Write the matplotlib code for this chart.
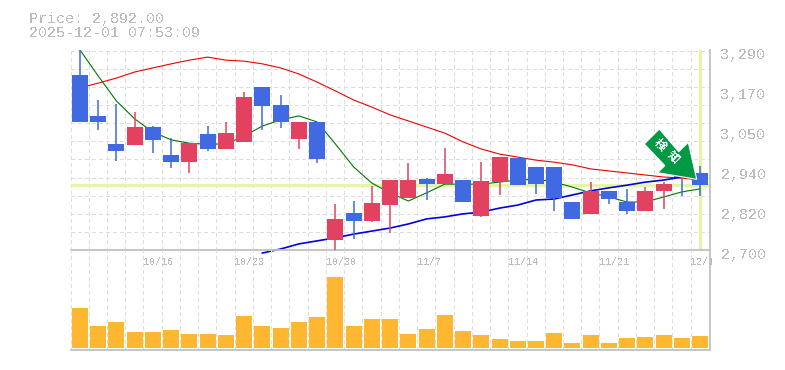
import matplotlib
matplotlib.use("Agg")
import matplotlib.pyplot as plt
import numpy as np
from matplotlib.patches import Polygon
from matplotlib.transforms import Affine2D, Bbox, ScaledTranslation

header = ["Price: 2,892.00", "2025-12-01 07:53:09"]
current_price = 2892
opens  = [3218,3097,3014,3011,3064,2981,2960,3043,2999,3020,3182,3129,3029,3079,2730,2810,2786,2833,2854,2910,2895,2907,2801,2901,2972,2946,2946,2842,2807,2875,2842,2815,2875,2931,2928]
highs  = [3292,3144,3132,3108,3067,3032,3017,3067,3079,3168,3182,3159,3079,3079,2836,2845,2889,2907,2958,2913,3002,2907,2960,2975,2972,2946,2946,2842,2901,2875,2881,2886,2901,2931,2949]
lows   = [3079,3055,2964,3011,2987,2943,2928,2993,2999,3020,3055,3061,2999,2958,2700,2733,2783,2750,2854,2848,2895,2842,2798,2863,2892,2866,2815,2792,2807,2836,2807,2815,2821,2860,2860]
closes = [3079,3079,2993,3064,3026,2960,3017,2999,3046,3153,3126,3079,3079,2969,2792,2786,2839,2907,2907,2895,2925,2842,2904,2975,2892,2895,2854,2792,2875,2851,2815,2875,2895,2916,2892]
ma_short = [3292,3215,3141,3088,3049,3026,3016,3013,3014,3037,3067,3085,3097,3079,3014,2946,2898,2869,2845,2869,2895,2895,2895,2901,2907,2910,2901,2886,2869,2857,2842,2842,2857,2872,2881]
ma_mid = [3180,3194,3209,3227,3239,3251,3262,3271,3262,3259,3251,3239,3221,3197,3171,3144,3123,3100,3082,3064,3046,3020,2999,2984,2975,2966,2960,2952,2940,2934,2928,2922,2916,2913,2907]
ma_long = [2691,2703,2718,2727,2736,2747,2756,2765,2777,2792,2798,2807,2812,2824,2833,2848,2851,2863,2875,2884,2892,2901,2907,2916,2925]
ma_long_start = 10
volumes = [40,22,26,16,16,18,14,14,13,32,22,20,26,31,71,22,29,29,14,19,33,17,13,9,7,7,15,5,13,5,10,11,13,10,12]
date_idx = [4,9,14,19,24,29,34]
date_labels = ["10/16","10/23","10/30","11/7","11/14","11/21","12/1"]
ylabel_vals = [2700,2818.4,2936.8,3055.2,3173.6,3292]
ylabel_text = ["2,700","2,820","2,940","3,050","3,170","3,290"]
signal_chars = ["検","知"]

plt.rcParams["text.antialiased"]=False
GRID="#dedede"; AXC="#c0c0c0"; TXT="#bcbcbc"
UP="#e2425f"; DOWN="#4169e1"; VOL="#ffb732"; MARK="#e4f5a8"
MONO="Liberation Mono"
W,H=785,370
fig=plt.figure(figsize=(W/100,H/100),dpi=100,facecolor="white")
ax=fig.add_axes([70.5/W,(H-250)/H,639.5/W,200/H])
av=fig.add_axes([70.5/W,(H-350)/H,639.5/W,100/H],sharex=None)
av.patch.set_alpha(0)
n=len(opens); xs=np.arange(n)
step=18.24; xlim=(-9.5/step,-9.5/step+639.5/step)
for a in (ax,av):
    a.set_xlim(*xlim)
    for s in ("top","left"):
        a.spines[s].set_visible(False)
    for s in ("right","bottom"):
        a.spines[s].set_color(AXC); a.spines[s].set_linewidth(1.3)
    a.set_axisbelow(True)
    a.set_xticks(np.arange(0,n)-9.5/step)
    a.grid(True,axis="x",which="major",color=GRID,ls=(0,(3,3)),lw=0.72,antialiased=False)
    a.tick_params(length=0,which="both")
ax.set_ylim(2700,3292)
ax.set_yticks(2700+53.6*np.arange(12),minor=True)
ax.grid(True,axis="y",which="minor",color=GRID,ls=(0,(3,3)),lw=0.72,antialiased=False)
ax.yaxis.tick_right()
ax.set_yticks(ylabel_vals,ylabel_text,family=MONO,fontsize=10.8,color=TXT)
ax.tick_params(axis="y",pad=7.6)
off=ScaledTranslation(0,-3/100,fig.dpi_scale_trans)
for l in ax.get_yticklabels():
    l.set_transform(l.get_transform()+off)
ax.set_xticklabels([])
av.set_ylim(-2,98); av.set_yticks([]); av.set_xticklabels([])

ax.axhline(current_price,color=MARK,lw=2.3,zorder=1.5)
ax.axvline(xs[-1],color=MARK,lw=2.3,ymin=0.01,ymax=1,zorder=1.5)
ax.plot(xs,ma_short,color="#007800",lw=0.8,zorder=2)
ax.plot(xs,ma_mid,color="#f00000",lw=0.8,zorder=2)
ax.plot(xs[ma_long_start:],ma_long,color="#0000e6",lw=1.2,zorder=2,clip_on=False)
colors=[UP if c>=o else DOWN for o,c in zip(opens,closes)]
ax.vlines(xs,lows,highs,colors=colors,lw=1.1,zorder=3)
ax.bar(xs,np.abs(np.array(closes)-np.array(opens)),bottom=np.minimum(opens,closes),width=16/step,color=colors,zorder=4,lw=0)
av.bar(xs,volumes,width=16/step,color=VOL,lw=0,zorder=3)

clip=Bbox([[0,0],[712,H]])
for i,t in zip(date_idx,date_labels):
    x0=70.5+(i)*step
    fig.text(x0/W,(H-262)/H,t,family=MONO,fontsize=7.2,color=TXT,ha="left",va="center",clip_on=True,clip_box=clip)
for t,y in zip(header,[18.5,33]):
    fig.text(29/W,(H-y)/H,t,family=MONO,fontsize=10.8,color=TXT,ha="left",va="center")

# signal marker: pixel offsets relative to its tip
arrow_offsets=[(0,0),(-39,-6.6),(-31.9,-13.7),(-52.4,-35.3),(-37.4,-50.3),(-18,-27.6),(-8.4,-37)]
tip=(696.7,H-179.3)
tr=Affine2D().scale(1,-1).translate(*tip)
fig.add_artist(Polygon(arrow_offsets,closed=True,transform=tr,fc="#009944",ec="white",lw=0.8,zorder=10))
for ch,(cx,cy) in zip(signal_chars,[(660,145),(673,157)]):
    fig.text(cx/W,(H-cy)/H,ch,family=["Noto Sans CJK JP","DejaVu Sans"],fontweight="bold",fontsize=8.6,color="white",rotation=-45,rotation_mode="anchor",ha="center",va="center",zorder=11)
fig.savefig("out.png",dpi=100,facecolor="white")
